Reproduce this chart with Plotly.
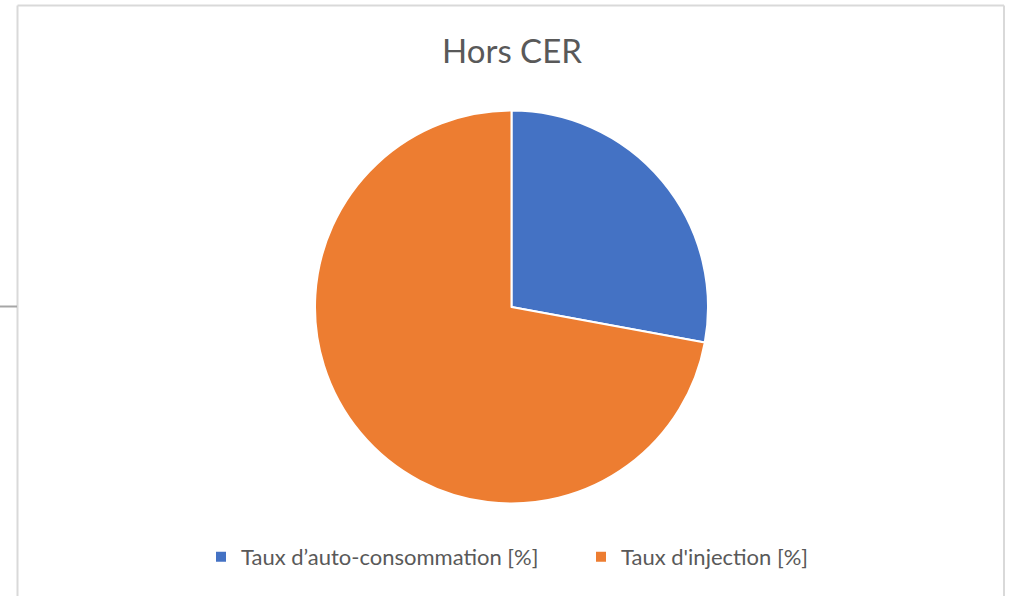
import plotly.graph_objects as go

labels = ["Taux d\u2019auto-consommation [%]", "Taux d'injection [%]"]
values = [27.9, 72.1]
colors = ["#4472C4", "#ED7D31"]
title_text = "Hors CER"

W, H = 1012, 596

def px_x(p):
    return p / W

def px_y(p):
    return 1 - p / H

fig = go.Figure(go.Pie(
    labels=labels,
    values=values,
    sort=False,
    direction="clockwise",
    rotation=0,
    textinfo="none",
    hoverinfo="label+percent",
    marker=dict(colors=colors, line=dict(color="white", width=2)),
    domain=dict(x=[px_x(315), px_x(708)], y=[px_y(504), px_y(110)]),
))

fig.update_layout(
    width=W, height=H,
    margin=dict(l=0, r=0, t=0, b=0),
    paper_bgcolor="white",
    plot_bgcolor="white",
    font=dict(family="Lato, Open Sans, sans-serif", color="#595959"),
    title=dict(text=title_text, x=px_x(512), xanchor="center", y=px_y(51), yanchor="middle",
               font=dict(size=33, color="#595959", family="Lato, Open Sans, sans-serif")),
    showlegend=True,
    legend=dict(orientation="h", x=px_x(201), xanchor="left", y=px_y(557), yanchor="middle",
                font=dict(size=22, color="#595959"), itemwidth=30, tracegroupgap=0,
                entrywidth=335, entrywidthmode="pixels"),
    shapes=[
        dict(type="line", xref="paper", yref="paper", x0=px_x(17.5), x1=px_x(17.5), y0=px_y(5.5), y1=px_y(620),
             line=dict(color="#d9d9d9", width=2)),
        dict(type="line", xref="paper", yref="paper", x0=px_x(17.5), x1=px_x(1004), y0=px_y(5.5), y1=px_y(5.5),
             line=dict(color="#d9d9d9", width=2)),
        dict(type="line", xref="paper", yref="paper", x0=px_x(1004), x1=px_x(1004), y0=px_y(5.5), y1=px_y(620),
             line=dict(color="#d9d9d9", width=2)),
        dict(type="line", xref="paper", yref="paper", x0=px_x(-2), x1=px_x(17), y0=px_y(306.5), y1=px_y(306.5),
             line=dict(color="#a6a6a6", width=2)),
    ],
)

fig.write_html("out.html", config={"displayModeBar": False},
               post_script="document.body.style.margin='0';document.body.style.overflow='hidden';")
